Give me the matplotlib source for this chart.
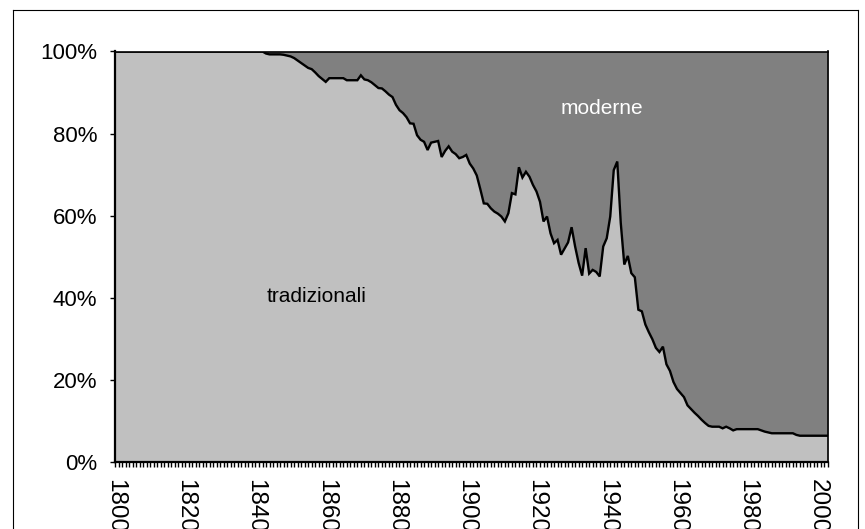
import matplotlib
matplotlib.use("Agg")
import matplotlib.pyplot as plt
from matplotlib.ticker import MultipleLocator, FuncFormatter
from matplotlib.lines import Line2D
import numpy as np

plt.rcParams['font.family'] = ['Liberation Sans', 'DejaVu Sans']

years = list(range(1800, 2004))

tradizionali = (
    [100.0] * 43 +  # 1800-1842
    [99.5, 99.3, 99.3, 99.3, 99.3, 99.2, 99.0,            # 1843-1849
     98.8, 98.4, 97.8, 97.2, 96.6, 96.0, 95.7, 94.9, 94.0, 93.3,  # 1850-1859
     92.6, 93.5, 93.5, 93.5, 93.5, 93.5, 93.0, 93.0, 93.0, 93.0,  # 1860-1869
     94.2, 93.2, 93.0, 92.5, 91.8, 91.1, 91.0, 90.3, 89.5, 88.9,  # 1870-1879
     87.0, 85.7, 85.0, 84.0, 82.5, 82.4, 79.6, 78.5, 78.0, 76.0,  # 1880-1889
     77.8, 78.0, 78.2, 74.3, 75.8, 76.9, 75.6, 75.0, 74.0, 74.3,  # 1890-1899
     74.8, 72.7, 71.5, 69.8, 66.5, 63.0, 62.9, 61.8, 61.0, 60.5,  # 1900-1909
     59.8, 58.6, 60.6, 65.5, 65.2, 71.8, 69.3, 70.7, 69.5, 67.5,  # 1910-1919
     65.9, 63.4, 58.6, 59.8, 55.7, 53.3, 54.1, 50.5, 52.0, 53.5,  # 1920-1929
     57.2, 52.5, 48.5, 45.4, 52.1, 45.9, 46.8, 46.3, 45.2, 52.5,  # 1930-1939
     54.5, 59.8, 71.1, 73.2, 58.2, 48.1, 50.2, 46.0, 45.0, 37.1,  # 1940-1949
     36.7, 33.5, 31.6, 29.9, 27.8, 26.8, 28.1, 23.8, 22.2, 19.5,  # 1950-1959
     17.8, 16.8, 15.8, 13.8, 12.9, 12.0, 11.2, 10.3, 9.5, 8.8,    # 1960-1969
     8.6, 8.6, 8.6, 8.2, 8.6, 8.2, 7.7, 8.0, 8.0, 8.0,            # 1970-1979
     8.0, 8.0, 8.0, 8.0, 7.7, 7.4, 7.2, 7.0, 7.0, 7.0,            # 1980-1989
     7.0, 7.0, 7.0, 7.0, 6.6, 6.4, 6.4, 6.4, 6.4, 6.4,            # 1990-1999
     6.4, 6.4, 6.4, 6.4]                                          # 2000-2003
)
moderne = [100.0 - v for v in tradizionali]

x_tick_labels = list(range(1800, 2001, 20))
y_tick_labels = [0, 20, 40, 60, 80, 100]

W, H = 865, 529
fig = plt.figure(figsize=(W / 100, H / 100), dpi=100)
ax = fig.add_axes([115 / W, 1 - 462 / H, (828 - 115) / W, (462 - 51.5) / H])

t = np.array(tradizionali)
m = np.array(moderne)
ax.fill_between(years, 0, t, color='#C0C0C0', linewidth=0)
ax.fill_between(years, t, t + m, color='#808080', linewidth=0)
ax.plot(years, t, color='black', linewidth=1.7, solid_joinstyle='miter')

ax.set_xlim(1800, 2003)
ax.set_ylim(0, 100)

ax.set_yticks(y_tick_labels)
ax.yaxis.set_major_formatter(FuncFormatter(lambda v, p: f"{int(v)}%"))
ax.set_xticks(x_tick_labels)
ax.set_xticklabels([str(v) for v in x_tick_labels], rotation=270)
ax.xaxis.set_minor_locator(MultipleLocator(1))

ax.tick_params(axis='y', direction='out', length=3.6, width=1, labelsize=16, pad=9)
ax.tick_params(axis='x', which='both', direction='out', length=3.6, width=1, labelsize=17.5, pad=8.5)

for s in ['left', 'bottom']:
    ax.spines[s].set_linewidth(1.6)
    ax.spines[s].set_color('black')
for s in ['top', 'right']:
    ax.spines[s].set_linewidth(1.2)
    ax.spines[s].set_color('black')

ax.text(1938.6, 86, 'moderne', color='white', fontsize=15, ha='center', va='center')
ax.text(1857.5, 40.2, 'tradizionali', color='black', fontsize=15, ha='center', va='center')

# outer chart frame
fx0, fx1 = 12.5 / W, 857.5 / W
fy0 = 1 - 9.5 / H
fig.add_artist(Line2D([fx0, fx1], [fy0, fy0], color='black', linewidth=0.8, transform=fig.transFigure))
fig.add_artist(Line2D([fx0, fx0], [0, fy0], color='black', linewidth=0.8, transform=fig.transFigure))
fig.add_artist(Line2D([fx1, fx1], [0, fy0], color='black', linewidth=0.8, transform=fig.transFigure))

fig.savefig('out.png', dpi=100)
